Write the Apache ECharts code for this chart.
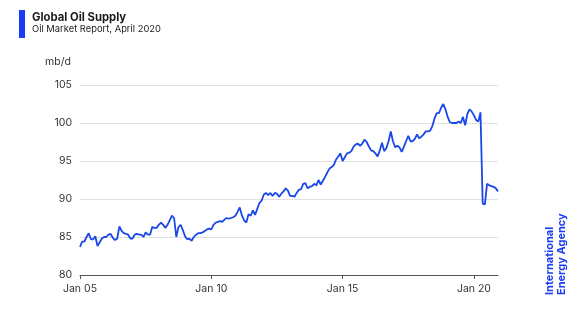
<!DOCTYPE html>
<html>
<head>
<meta charset="utf-8">
<script src="https://cdn.jsdelivr.net/npm/echarts@6/dist/echarts.min.js"></script>
<style>
html,body{margin:0;padding:0;background:#fff;}
#chart{width:583px;height:309px;}
</style>
</head>
<body>
<div id="chart"></div>
<script>
// Monthly global oil supply, mb/d (Jan 2005 - Dec 2020)
var s2005 = [83.7, 84.4, 84.4, 85.0, 85.5, 84.7, 84.7, 85.1, 83.8, 84.3, 84.8, 85.0];
var s2006 = [85.0, 85.3, 85.4, 84.9, 84.6, 84.8, 86.4, 85.8, 85.5, 85.4, 85.3, 84.8];
var s2007 = [84.8, 85.3, 85.4, 85.3, 85.3, 85.0, 85.6, 85.3, 85.3, 86.3, 86.2, 86.2];
var s2008 = [86.6, 86.9, 86.6, 86.2, 86.6, 87.2, 87.8, 87.5, 85.0, 86.3, 86.6, 85.9];
var s2009 = [85.1, 84.7, 84.8, 84.5, 85.0, 85.3, 85.5, 85.5, 85.6, 85.8, 86.0, 86.1];
var s2010 = [86.0, 86.6, 86.9, 87.0, 87.1, 87.0, 87.3, 87.5, 87.4, 87.5, 87.6, 87.8];
var s2011 = [88.3, 88.9, 87.8, 87.2, 86.9, 88.0, 87.8, 88.5, 87.9, 88.7, 89.5, 89.8];
var s2012 = [90.6, 90.8, 90.5, 90.8, 90.4, 90.8, 90.7, 90.3, 90.7, 91.0, 91.4, 91.1];
var s2013 = [90.4, 90.4, 90.3, 90.8, 91.2, 91.3, 92.0, 92.1, 91.4, 91.6, 91.7, 92.0];
var s2014 = [91.8, 92.5, 91.9, 92.4, 92.9, 93.5, 94.0, 94.2, 94.5, 95.2, 95.6, 96.0];
var s2015 = [95.0, 95.5, 96.0, 96.1, 96.3, 96.9, 97.2, 97.3, 97.0, 97.3, 97.8, 97.5];
var s2016 = [96.9, 96.4, 96.3, 96.0, 95.6, 96.4, 97.4, 96.3, 96.7, 97.6, 98.9, 97.6];
var s2017 = [96.8, 97.0, 96.8, 96.2, 96.9, 97.6, 98.3, 97.6, 97.6, 97.9, 98.5, 98.0];
var s2018 = [98.2, 98.5, 98.9, 98.9, 99.0, 99.6, 100.6, 101.3, 101.3, 102.0, 102.5, 101.8];
var s2019 = [100.8, 100.1, 100.0, 100.0, 100.0, 100.2, 100.0, 100.8, 99.7, 101.2, 101.8, 101.5];
var s2020 = [101.0, 100.4, 100.2, 101.4, 89.4, 89.3, 92.0, 91.8, 91.7, 91.6, 91.4, 91.0];

var years = ['05','06','07','08','09','10','11','12','13','14','15','16','17','18','19','20'];
var months = ['Jan','Feb','Mar','Apr','May','Jun','Jul','Aug','Sep','Oct','Nov','Dec'];
var tickLabels = ['Jan 05', 'Jan 10', 'Jan 15', 'Jan 20'];

var supply = [].concat(s2005, s2006, s2007, s2008, s2009, s2010, s2011, s2012,
  s2013, s2014, s2015, s2016, s2017, s2018, s2019, s2020);
var categories = [];
years.forEach(function (y) { months.forEach(function (m) { categories.push(m + ' ' + y); }); });

function isTick(idx, val) { return tickLabels.indexOf(categories[idx]) >= 0; }

var FONT = 'Inter, "Open Sans", sans-serif';
var BLUE = '#1a48e8';

var chart = echarts.init(document.getElementById('chart'), null, {renderer: 'canvas'});
chart.setOption({
  animation: false,
  backgroundColor: '#ffffff',
  grid: {left: 80, right: 85, top: 85, bottom: 34},
  graphic: [
    {type: 'rect', left: 19, top: 10, shape: {width: 6, height: 28}, style: {fill: '#1a3cf5'}},
    {type: 'text', left: 32, top: 12, style: {text: 'Global Oil Supply', font: 'bold 11.3px ' + FONT, fill: '#1a1a1a'}},
    {type: 'text', left: 32, top: 25, style: {text: 'Oil Market Report, April 2020', font: '9.4px ' + FONT, fill: '#1a1a1a'}},
    {type: 'text', left: 45, top: 56, style: {text: 'mb/d', font: '10.5px ' + FONT, fill: '#333'}},
    {type: 'text', x: 544, y: 295, rotation: Math.PI / 2,
     style: {text: 'International\nEnergy Agency', font: 'bold 11px ' + FONT, fill: '#1a3cf5', lineHeight: 12}}
  ],
  xAxis: {
    type: 'category',
    data: categories,
    boundaryGap: false,
    axisLine: {lineStyle: {color: '#555', width: 1}},
    axisTick: {interval: isTick, length: 4, lineStyle: {color: '#555'}},
    axisLabel: {interval: isTick, color: '#333', fontFamily: FONT, fontSize: 10.5, margin: 8},
    splitLine: {show: false}
  },
  yAxis: {
    type: 'value',
    min: 80, max: 105, interval: 5,
    axisLine: {show: false},
    axisTick: {show: false},
    axisLabel: {color: '#333', fontFamily: FONT, fontSize: 10.5, margin: 8},
    splitLine: {lineStyle: {color: '#e0e0e0', width: 1}}
  },
  series: [{
    type: 'line',
    data: supply,
    showSymbol: false,
    symbol: 'none',
    lineStyle: {color: BLUE, width: 1.8},
    itemStyle: {color: BLUE}
  }]
});
</script>
</body>
</html>
